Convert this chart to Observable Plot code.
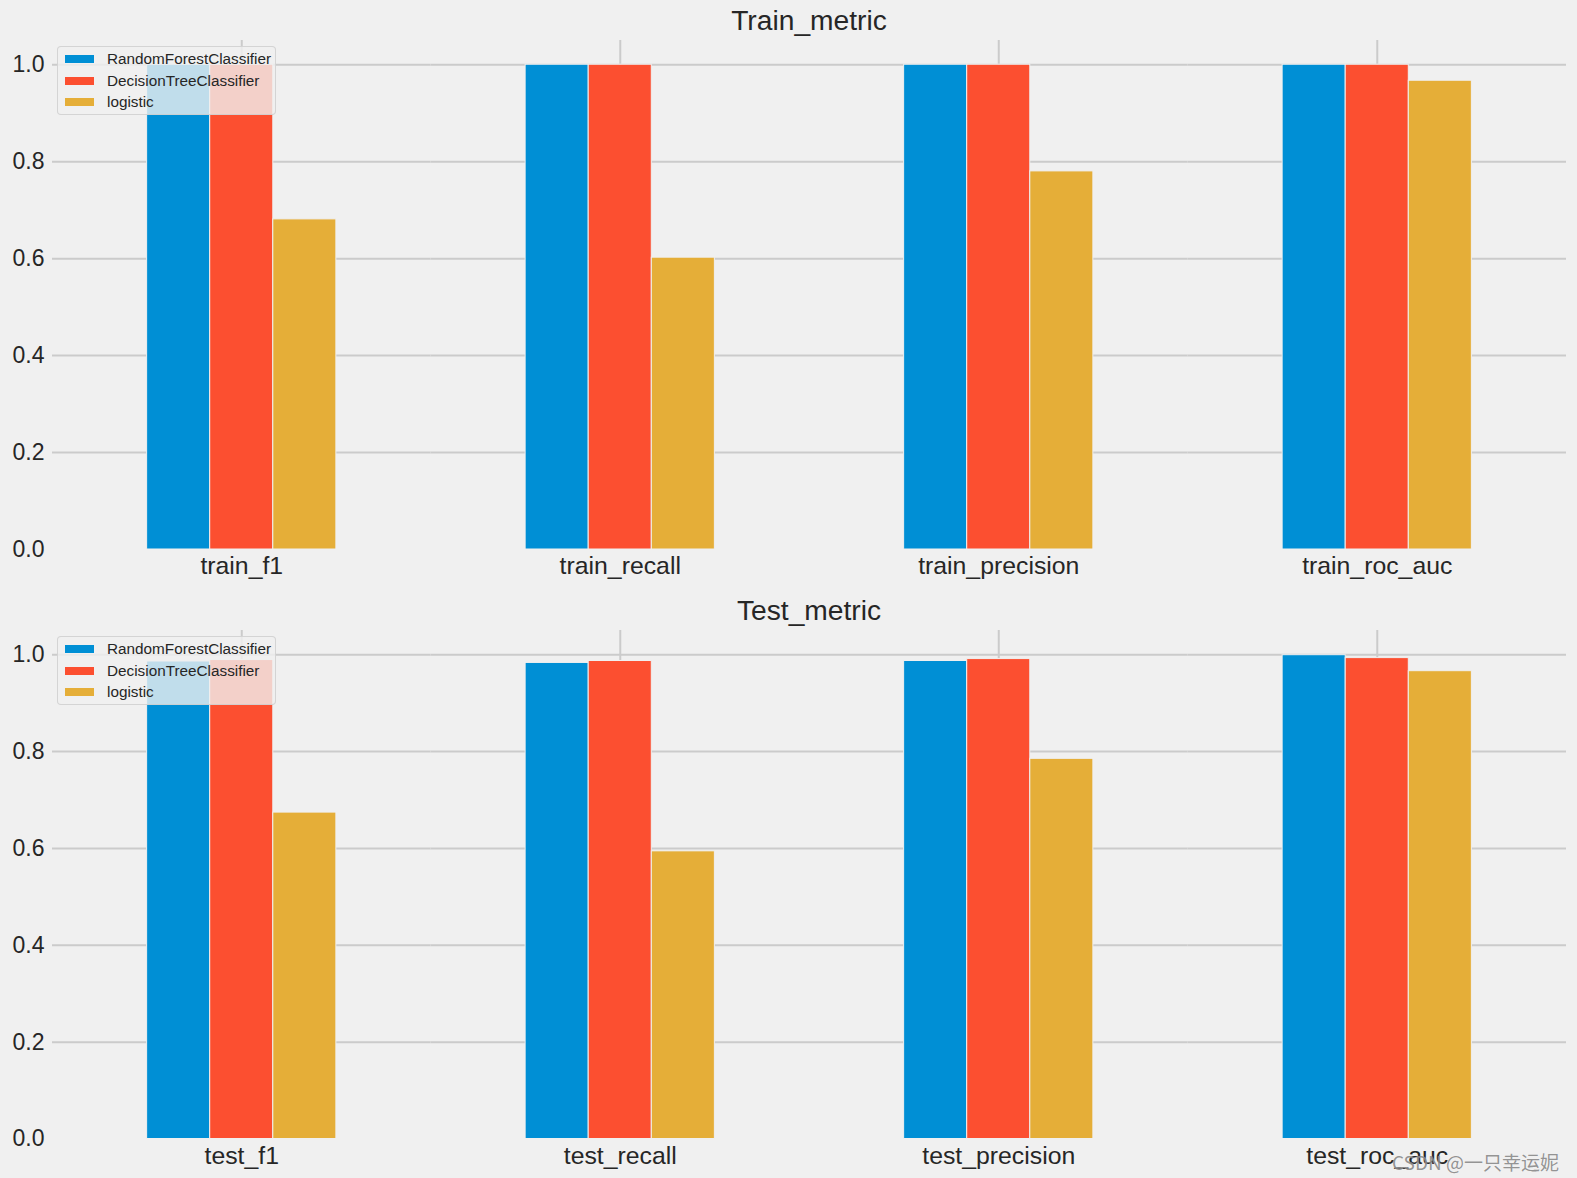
<!DOCTYPE html>
<html>
<head>
<meta charset="utf-8">
<script src="https://cdn.jsdelivr.net/npm/d3@7"></script>
<script src="https://cdn.jsdelivr.net/npm/@observablehq/plot@0.6"></script>
<style>
  html, body { margin: 0; padding: 0; background: #f0f0f0; }
  body { font-family: "Liberation Sans", Arial, Helvetica, sans-serif; color: #262626; }
  #root { position: relative; width: 1577px; height: 1178px; overflow: hidden; }
  .panel { position: relative; width: 1577px; }
  .title { box-sizing: border-box; width: 1577px; height: 40px; line-height: 40px; padding-left: 52px; padding-right: 11px;
           text-align: center; font-size: 28.2px; color: #262626; }
  .legend { position: absolute; left: 57px; width: 219px; height: 69px; box-sizing: border-box;
            background: rgba(240,240,240,0.8); border: 1px solid rgba(204,204,204,0.8); border-radius: 4px; }
  .legend .item { position: absolute; left: 6px; height: 22px; display: flex; align-items: center; font-size: 15.3px; color: #262626; }
  .legend .sw { width: 31px; height: 10px; margin-right: 12px; box-sizing: border-box; border: 0.5px solid #f0f0f0; }
  .wm { position: absolute; left: 1392px; top: 1148px; font-family: "Noto Sans CJK SC", "Liberation Sans", sans-serif;
        font-size: 19px; color: rgba(120,120,120,0.8); white-space: nowrap; text-shadow: 0 0 1px rgba(255,255,255,0.6); }
</style>
</head>
<body>
<div id="root"></div>
<script>
// ---- data ----
const models = ["RandomForestClassifier", "DecisionTreeClassifier", "logistic"];
const colors = ["#008fd5", "#fc4f30", "#e5ae38"];

const trainMetrics = ["train_f1", "train_recall", "train_precision", "train_roc_auc"];
const trainRF  = [1.0, 1.0, 1.0, 1.0];
const trainDT  = [1.0, 1.0, 1.0, 1.0];
const trainLR  = [0.681, 0.602, 0.780, 0.967];

const testMetrics = ["test_f1", "test_recall", "test_precision", "test_roc_auc"];
const testRF  = [0.986, 0.983, 0.987, 0.999];
const testDT  = [0.989, 0.987, 0.991, 0.993];
const testLR  = [0.674, 0.594, 0.785, 0.966];

const yTicks = [0, 0.2, 0.4, 0.6, 0.8, 1.0];
const gridTicks = [0.2, 0.4, 0.6, 0.8, 1.0];
const titles = ["Train_metric", "Test_metric"];
const watermark = "CSDN @一只幸运妮";

// ---- drawing ----
const root = document.getElementById("root");
const FONT = "'Liberation Sans', Arial, Helvetica, sans-serif";

function makePanel(title, metrics, series, svgHeight, marginBottom) {
  const data = [];
  metrics.forEach((m, i) => models.forEach((mod, j) => data.push({metric: m, model: mod, value: series[j][i]})));

  const panel = document.createElement("div");
  panel.className = "panel";
  const t = document.createElement("div");
  t.className = "title";
  t.textContent = title;
  panel.appendChild(t);

  const chart = Plot.plot({
    width: 1577,
    height: svgHeight,
    marginLeft: 52,
    marginRight: 11,
    marginTop: 0,
    marginBottom: marginBottom,
    style: {background: "transparent", fontFamily: FONT, fontSize: "23px", color: "#262626", overflow: "visible"},
    fx: {domain: metrics, padding: 0, label: null, round: false},
    x: {domain: models, paddingInner: 0, paddingOuter: 1.5, align: 0.5, round: false, axis: null},
    y: {domain: [0, 1.05], axis: null},
    color: {domain: models, range: colors},
    marks: [
      Plot.gridY(gridTicks, {stroke: "#cbcbcb", strokeOpacity: 1, strokeWidth: 2}),
      Plot.ruleX([models[1]], {x: d => d, stroke: "#cbcbcb", strokeOpacity: 1, strokeWidth: 2}),
      Plot.barY(data, {fx: "metric", x: "model", y: "value", fill: "model", stroke: "#f0f0f0", strokeWidth: 1}),
      Plot.axisY(yTicks, {tickSize: 0, tickPadding: 8, tickFormat: d3.format(".1f"), fontSize: 23, label: null, fill: "#262626"}),
      Plot.axisFx({anchor: "bottom", tickSize: 0, tickPadding: 7, fontSize: 24.8, label: null, fill: "#262626"})
    ]
  });
  chart.style.display = "block";
  panel.appendChild(chart);

  const legend = document.createElement("div");
  legend.className = "legend";
  legend.style.top = (40 + 6) + "px";
  models.forEach((m, j) => {
    const it = document.createElement("div");
    it.className = "item";
    it.style.top = (1 + j * 21.7) + "px";
    const sw = document.createElement("div");
    sw.className = "sw";
    sw.style.background = colors[j];
    const lab = document.createElement("span");
    lab.textContent = m;
    it.appendChild(sw);
    it.appendChild(lab);
    legend.appendChild(it);
  });
  panel.appendChild(legend);
  return panel;
}

root.appendChild(makePanel(titles[0], trainMetrics, [trainRF, trainDT, trainLR], 550, 41));
root.appendChild(makePanel(titles[1], testMetrics, [testRF, testDT, testLR], 548, 39.5));

const wm = document.createElement("div");
wm.className = "wm";
wm.textContent = watermark;
root.appendChild(wm);
</script>
</body>
</html>
